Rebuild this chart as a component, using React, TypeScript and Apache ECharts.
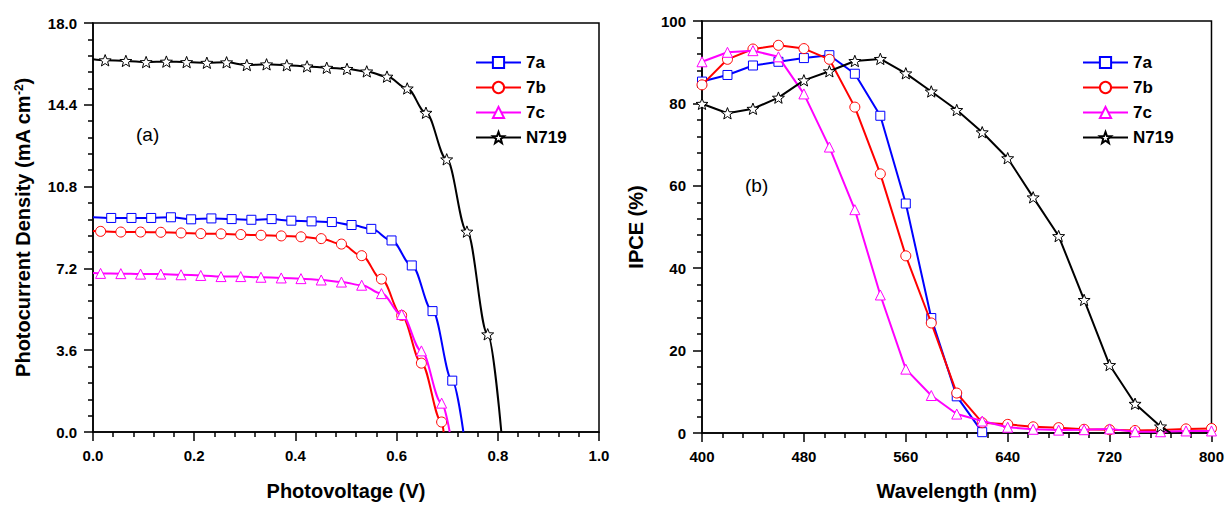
import React, { useEffect, useRef } from "react";
import * as echarts from "echarts";

const FONT = '"Liberation Sans", Arial, Helvetica, sans-serif';

const seriesNames = ["7a", "7b", "7c", "N719"];
const seriesColors = ["#0000ff", "#ff0000", "#ff00ff", "#000000"];

// ---- (a) J-V curves (first/last points carry no marker) ----
const jv7aV = [0, 0.036, 0.076, 0.115, 0.154, 0.194, 0.234, 0.274, 0.313, 0.353, 0.392, 0.432, 0.472, 0.511, 0.55, 0.59, 0.63, 0.671, 0.71, 0.732];
const jv7aJ = [9.45, 9.42, 9.42, 9.42, 9.45, 9.36, 9.4, 9.37, 9.34, 9.37, 9.3, 9.27, 9.24, 9.11, 8.94, 8.43, 7.33, 5.32, 2.26, 0];

const jv7bV = [0, 0.015, 0.055, 0.094, 0.134, 0.174, 0.213, 0.253, 0.292, 0.332, 0.372, 0.411, 0.451, 0.491, 0.531, 0.57, 0.61, 0.649, 0.689, 0.693];
const jv7bJ = [8.85, 8.83, 8.8, 8.8, 8.79, 8.76, 8.73, 8.72, 8.69, 8.66, 8.63, 8.59, 8.51, 8.27, 7.76, 6.73, 5.13, 3.03, 0.44, 0];

const jv7cV = [0, 0.015, 0.055, 0.094, 0.134, 0.174, 0.213, 0.253, 0.292, 0.332, 0.372, 0.411, 0.451, 0.491, 0.531, 0.57, 0.61, 0.649, 0.689, 0.705];
const jv7cJ = [7.0, 6.98, 6.97, 6.95, 6.95, 6.92, 6.89, 6.84, 6.84, 6.81, 6.78, 6.75, 6.69, 6.6, 6.46, 6.09, 5.17, 3.57, 1.27, 0];

const jvN719V = [0, 0.024, 0.065, 0.105, 0.145, 0.185, 0.225, 0.264, 0.304, 0.343, 0.383, 0.423, 0.462, 0.502, 0.541, 0.581, 0.621, 0.658, 0.699, 0.739, 0.78, 0.807];
const jvN719J = [16.4, 16.36, 16.33, 16.28, 16.3, 16.28, 16.25, 16.27, 16.15, 16.18, 16.14, 16.09, 16.03, 15.98, 15.87, 15.64, 15.12, 14.05, 12.0, 8.82, 4.3, 0];

// ---- (b) IPCE spectra ----
const wavelengths = [400, 420, 440, 460, 480, 500, 520, 540, 560, 580, 600, 620, 640, 660, 680, 700, 720, 740, 760, 780, 800];
const ipce7a = [85.3, 86.9, 89.2, 90.1, 91.0, 91.7, 87.2, 77.0, 55.7, 27.9, 8.9, 0.2];
const ipce7b = [84.5, 90.7, 93.2, 94.1, 93.3, 90.7, 79.1, 62.9, 43.0, 26.7, 9.7, 2.5, 2.1, 1.5, 1.3, 0.9, 0.8, 0.6, 0.7, 1.0, 1.1];
const ipce7c = [90.1, 92.4, 92.8, 91.3, 82.3, 69.4, 54.2, 33.5, 15.5, 9.1, 4.6, 2.9, 1.4, 0.9, 0.7, 0.8, 1.0, 0.3, 0.3, 0.5, 0.5];
const ipceN719 = [79.9, 77.6, 78.7, 81.4, 85.6, 87.8, 90.3, 90.8, 87.3, 82.9, 78.4, 73.0, 66.7, 57.2, 47.8, 32.3, 16.5, 7.1, 1.6];
const ipceN719End = [768, 0];

const jvTicksX = { min: 0, max: 1, interval: 0.2 };
const jvTicksY = { min: 0, max: 18, interval: 3.6 };
const ipceTicksX = { min: 400, max: 800, interval: 80 };
const ipceTicksY = { min: 0, max: 100, interval: 20 };

function starPath(): string {
  const pts: string[] = [];
  for (let i = 0; i < 10; i++) {
    const r = i % 2 === 0 ? 1 : 0.42;
    const a = -Math.PI / 2 + (i * Math.PI) / 5;
    pts.push(`${(r * Math.cos(a)).toFixed(3)} ${(r * Math.sin(a)).toFixed(3)}`);
  }
  return "path://M" + pts.join(" L ") + " Z";
}

const symbols = ["rect", "circle", "triangle", starPath()];
const symbolSizes = [9, 10, 10, 12];

function pairData(xs: number[], ys: number[], noSymbolEnds: boolean) {
  return ys.map((y, i) => {
    const v = [xs[i], y];
    if (noSymbolEnds && (i === 0 || i === ys.length - 1)) {
      return { value: v, symbol: "none" };
    }
    return v;
  });
}

function makeAxis(kind: "x" | "y", idx: number, ticks: any, name: string, nameGap: number, decimals: number) {
  return {
    type: "value",
    gridIndex: idx,
    min: ticks.min,
    max: ticks.max,
    interval: ticks.interval,
    name,
    nameLocation: "middle",
    nameGap,
    nameTextStyle: {
      fontFamily: FONT,
      fontSize: 20,
      fontWeight: "bold",
      color: "#000",
      rich: {
        sup: { fontFamily: FONT, fontSize: 12, fontWeight: "bold", color: "#000", verticalAlign: "top", lineHeight: 20 },
      },
    },
    axisLine: { show: true, onZero: false, lineStyle: { color: "#000", width: 1.5 } },
    axisTick: { show: true, inside: false, length: 9, lineStyle: { color: "#000", width: 1.5 } },
    minorTick: { show: true, splitNumber: 5, length: 5, lineStyle: { color: "#000", width: 1.5 } },
    splitLine: { show: false },
    minorSplitLine: { show: false },
    axisLabel: {
      margin: 16,
      fontFamily: FONT,
      fontSize: 15,
      fontWeight: "bold",
      color: "#000",
      formatter: (v: number) => v.toFixed(decimals),
    },
  };
}

export default function App() {
  const ref = useRef<HTMLDivElement>(null);

  useEffect(() => {
    if (!ref.current) return;
    const chart = echarts.init(ref.current, null, { renderer: "svg" });

    const jvSets = [
      [jv7aV, jv7aJ],
      [jv7bV, jv7bJ],
      [jv7cV, jv7cJ],
      [jvN719V, jvN719J],
    ];
    const ipceSets = [ipce7a, ipce7b, ipce7c, ipceN719];

    const series: any[] = [];
    seriesNames.forEach((name, i) => {
      const common = {
        name,
        type: "line",
        symbol: symbols[i],
        symbolSize: symbolSizes[i],
        symbolKeepAspect: true,
        showAllSymbol: true,
        silent: true,
        lineStyle: { color: seriesColors[i], width: 2 },
        itemStyle: { color: "#ffffff", borderColor: seriesColors[i], borderWidth: 1 },
        emphasis: { disabled: true },
        z: 2 + i,
      };
      series.push({
        ...common,
        xAxisIndex: 0,
        yAxisIndex: 0,
        smooth: 0.35,
        smoothMonotone: "x",
        data: pairData(jvSets[i][0], jvSets[i][1], true),
      });
      const ys = ipceSets[i];
      let data: any[] = pairData(wavelengths, ys, false);
      if (name === "N719") {
        data = data.concat([{ value: ipceN719End, symbol: "none" }]);
      }
      series.push({
        ...common,
        xAxisIndex: 1,
        yAxisIndex: 1,
        data,
      });
    });

    const legendCommon = {
      data: seriesNames,
      orient: "vertical",
      itemWidth: 45,
      itemHeight: 14,
      itemGap: 8,
      selectedMode: false,
      textStyle: { fontFamily: FONT, fontSize: 17, fontWeight: "bold", color: "#000" },
    };

    chart.setOption({
      animation: false,
      backgroundColor: "#ffffff",
      grid: [
        { left: 93, top: 23, width: 506, height: 412, show: true, borderColor: "#000", borderWidth: 1.5, backgroundColor: "transparent" },
        { left: 702, top: 21, width: 511, height: 415, show: true, borderColor: "#000", borderWidth: 1.5, backgroundColor: "transparent" },
      ],
      xAxis: [
        makeAxis("x", 0, jvTicksX, "Photovoltage (V)", 49, 1),
        makeAxis("x", 1, ipceTicksX, "Wavelength (nm)", 48, 0),
      ],
      yAxis: [
        makeAxis("y", 0, jvTicksY, "Photocurrent Density (mA cm{sup|-2})", 60, 1),
        makeAxis("y", 1, ipceTicksY, "IPCE (%)", 56, 0),
      ],
      legend: [
        { ...legendCommon, left: 470, top: 49 },
        { ...legendCommon, left: 1077, top: 49 },
      ],
      graphic: [
        { type: "text", left: 136, top: 125, style: { text: "(a)", fontFamily: FONT, fontSize: 19, fill: "#000" } },
        { type: "text", left: 745, top: 176, style: { text: "(b)", fontFamily: FONT, fontSize: 19, fill: "#000" } },
      ],
      series,
    });

    return () => {
      chart.dispose();
    };
  }, []);

  return (
    <div
      ref={ref}
      style={{ position: "fixed", left: 0, top: 0, width: 1227, height: 506, background: "#fff" }}
    />
  );
}
